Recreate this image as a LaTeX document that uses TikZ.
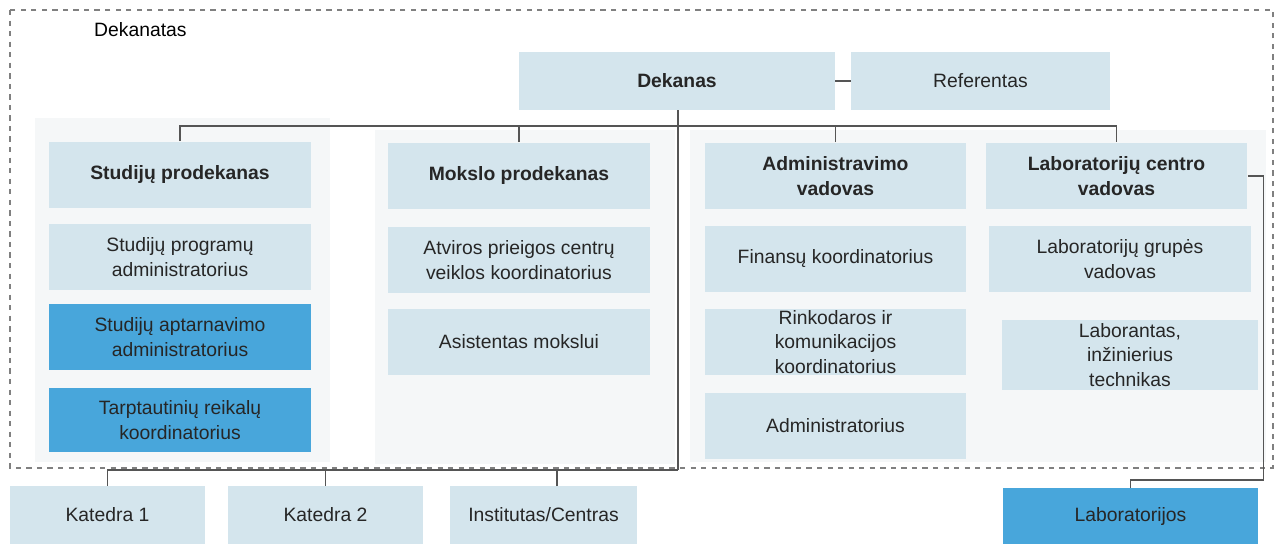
\documentclass[tikz,border=0pt]{standalone}
\usepackage{fontspec}
\setmainfont{Liberation Sans}
\definecolor{boxlight}{HTML}{D4E5ED}
\definecolor{boxdark}{HTML}{48A6DB}
\definecolor{panelbg}{HTML}{F5F7F8}
\definecolor{linegray}{HTML}{555555}
\tikzset{
  box/.style={fill=boxlight, minimum width=5.24cm, minimum height=1.34cm,
    align=center, inner sep=0pt, font=\fontsize{11}{14}\selectfont, text=black!85},
  headbox/.style={box, font=\fontsize{11}{14}\selectfont\bfseries},
  darkbox/.style={box, fill=boxdark},
  link/.style={draw=linegray, line width=0.6pt}
}
\begin{document}
\begin{tikzpicture}[x=0.02cm, y=-0.02cm]
    \useasboundingbox (0,0) rectangle (1282,544);

    % faint panels behind the columns
    \fill[panelbg] (35,118) rectangle (330,462);
    \fill[panelbg] (375,130) rectangle (675,464);
    \fill[panelbg] (690,130) rectangle (1266,462);

    % dekanatas frame
    \draw[gray, dashed, line width=0.6pt] (10,10) rectangle (1273,468);
    \node[anchor=west, font=\fontsize{11}{14}\selectfont] (frame) at (88,30) {Dekanatas};

    % top
    \node[headbox, minimum width=6.32cm, minimum height=1.16cm] (dekanas) at (677,81) {Dekanas};
    \node[box, minimum width=5.18cm, minimum height=1.16cm] (referentas) at (980.5,81) {Referentas};

    % columns
    \node[headbox] (prodstud) at (180,175) {Studijų prodekanas};
    \node[box] (progadm) at (180,257) {Studijų programų\\administratorius};
    \node[darkbox] (aptadm) at (180,337) {Studijų aptarnavimo\\administratorius};
    \node[darkbox, minimum height=1.28cm] (tarpt) at (180,420) {Tarptautinių reikalų\\koordinatorius};

    \node[headbox] (prodmoks) at (519,176) {Mokslo prodekanas};
    \node[box] (atviros) at (519,260) {Atviros prieigos centrų\\veiklos koordinatorius};
    \node[box] (asist) at (519,342) {Asistentas mokslui};

    \node[headbox] (admvad) at (835.5,176) {Administravimo\\vadovas};
    \node[box] (finans) at (835.5,259) {Finansų koordinatorius};
    \node[box] (rinkod) at (835.5,342) {Rinkodaros ir\\komunikacijos\\koordinatorius};
    \node[box] (admin) at (835.5,426) {Administratorius};

    \node[headbox] (labvad) at (1116.5,176) {Laboratorijų centro\\vadovas};
    \node[box] (labgrup) at (1120,259) {Laboratorijų grupės\\vadovas};
    \node[box, minimum width=5.12cm, minimum height=1.4cm] (laborant) at (1130,355) {Laborantas,\\inžinierius\\technikas};

    % bottom
    \node[box, minimum width=3.9cm, minimum height=1.16cm] (kat1) at (107.5,515) {Katedra 1};
    \node[box, minimum width=3.9cm, minimum height=1.16cm] (kat2) at (325.5,515) {Katedra 2};
    \node[box, minimum width=3.74cm, minimum height=1.16cm] (inst) at (543.5,515) {Institutas/Centras};
    \node[darkbox, minimum width=5.1cm, minimum height=1.12cm] (labs) at (1130.5,516) {Laboratorijos};

    % connectors
    \coordinate (topbar) at (678,126);
    \coordinate (botbar) at (678,470);
    \coordinate (instdrop) at (557,486);
    \draw[link] (dekanas.east) -- (referentas.west);
    \draw[link] (dekanas.south -| topbar) -- (botbar);
    \draw[link] (prodstud.north) |- (topbar) -| (labvad.north);
    \draw[link] (prodmoks.north) -- (prodmoks.north |- topbar);
    \draw[link] (admvad.north) -- (admvad.north |- topbar);
    \draw[link] (botbar) -| (kat1.north);
    \draw[link] (kat2.north) -- (kat2.north |- botbar);
    \draw[link] (instdrop) -- (instdrop |- botbar);
    \draw[link] (labvad.east) -- ++(16,0) |- (labs.north |- 0,480) -- (labs.north);
\end{tikzpicture}
\end{document}
